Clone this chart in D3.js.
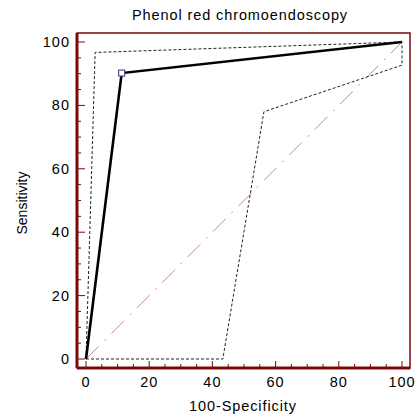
<!DOCTYPE html>
<html>
<head>
<meta charset="utf-8">
<script src="https://cdn.jsdelivr.net/npm/d3@7"></script>
<style>
  body { margin: 0; background: #fff; }
  text { font-family: "Liberation Sans", Arial, sans-serif; fill: #000; }
</style>
</head>
<body>
<svg width="416" height="417"></svg>
<script>
// ROC curve: x = 100-Specificity, y = Sensitivity
var rocX = [0, 11.3, 100];
var rocY = [0, 90.2, 100];
// upper confidence bound
var upperX = [0, 2.9, 100];
var upperY = [0, 96.7, 100];
// lower confidence bound
var lowerX = [0, 43.3, 56.3, 100, 100];
var lowerY = [0, 0, 78, 92.7, 100];
// reference diagonal
var diagX = [0, 100];
var diagY = [0, 100];
// operating point marker
var pointX = [11.3];
var pointY = [90.2];
var majorTicks = [0, 20, 40, 60, 80, 100];
var minorTicks = d3.range(0, 101, 5);

var svg = d3.select('svg');
var frame = { left: 77, right: 410, top: 33, bottom: 368 };

// domain: percent, range: pixel positions inside the frame
var x = d3.scaleLinear().domain([0, 100]).range([86, 402]);
var y = d3.scaleLinear().domain([0, 100]).range([359, 42]);

function pts(xs, ys) { return xs.map(function (v, i) { return [v, ys[i]]; }); }
var line = d3.line().x(function (d) { return x(d[0]); }).y(function (d) { return y(d[1]); });

var axisColor = '#7a0a0a';

// frame (thin top/right)
svg.append('rect')
  .attr('x', frame.left).attr('y', frame.top)
  .attr('width', frame.right - frame.left).attr('height', frame.bottom - frame.top)
  .attr('fill', 'none').attr('stroke', axisColor).attr('stroke-width', 1.5);

// diagonal
svg.append('path')
  .datum(pts(diagX, diagY))
  .attr('d', line)
  .attr('fill', 'none').attr('stroke', '#c48a96').attr('stroke-width', 1)
  .attr('stroke-dasharray', '18,8,2,8');

// confidence bounds
[[upperX, upperY], [lowerX, lowerY]].forEach(function (s) {
  svg.append('path')
    .datum(pts(s[0], s[1]))
    .attr('d', line)
    .attr('fill', 'none').attr('stroke', '#222').attr('stroke-width', 1)
    .attr('stroke-dasharray', '3,2');
});

// ROC
svg.append('path')
  .datum(pts(rocX, rocY))
  .attr('d', line)
  .attr('fill', 'none').attr('stroke', '#000').attr('stroke-width', 2.6);

// marker
svg.selectAll('rect.pt')
  .data(pts(pointX, pointY))
  .enter().append('rect')
  .attr('class', 'pt')
  .attr('x', function (d) { return x(d[0]) - 3; })
  .attr('y', function (d) { return y(d[1]) - 3; })
  .attr('width', 6).attr('height', 6)
  .attr('fill', '#fff').attr('stroke', '#33336e').attr('stroke-width', 1);

// x axis: ticks point into the plot
var gx = svg.append('g').attr('transform', 'translate(0,' + frame.bottom + ')');
gx.selectAll('line.minor').data(minorTicks).enter().append('line')
  .attr('x1', x).attr('x2', x).attr('y1', 0)
  .attr('y2', function (d) { return d % 20 === 0 ? -7 : -4; })
  .attr('stroke', axisColor).attr('stroke-width', 1);
gx.append('line').attr('x1', frame.left).attr('x2', frame.right)
  .attr('stroke', axisColor).attr('stroke-width', 3);
gx.selectAll('text').data(majorTicks).enter().append('text')
  .attr('x', x).attr('y', 19).attr('text-anchor', 'middle')
  .style('font-size', '14.5px').style('letter-spacing', '1px')
  .text(function (d) { return d; });

// y axis
var gy = svg.append('g').attr('transform', 'translate(' + frame.left + ',0)');
gy.selectAll('line.minor').data(minorTicks).enter().append('line')
  .attr('y1', y).attr('y2', y).attr('x1', 0)
  .attr('x2', function (d) { return d % 20 === 0 ? 8 : 4; })
  .attr('stroke', axisColor).attr('stroke-width', 1);
gy.append('line').attr('y1', frame.top).attr('y2', frame.bottom)
  .attr('stroke', axisColor).attr('stroke-width', 3);
gy.selectAll('text').data(majorTicks).enter().append('text')
  .attr('x', -7).attr('y', y).attr('dy', '0.35em').attr('text-anchor', 'end')
  .style('font-size', '14.5px').style('letter-spacing', '1px')
  .text(function (d) { return d; });

// titles
svg.append('text').attr('x', 240).attr('y', 20).attr('text-anchor', 'middle')
  .style('font-size', '14.5px').style('letter-spacing', '0.9px')
  .text('Phenol red chromoendoscopy');
svg.append('text').attr('x', 243).attr('y', 411).attr('text-anchor', 'middle')
  .style('font-size', '14.5px').style('letter-spacing', '0.9px')
  .text('100-Specificity');
svg.append('text').attr('transform', 'translate(27,203) rotate(-90)').attr('text-anchor', 'middle')
  .style('font-size', '14px').text('Sensitivity');
</script>
</body>
</html>
